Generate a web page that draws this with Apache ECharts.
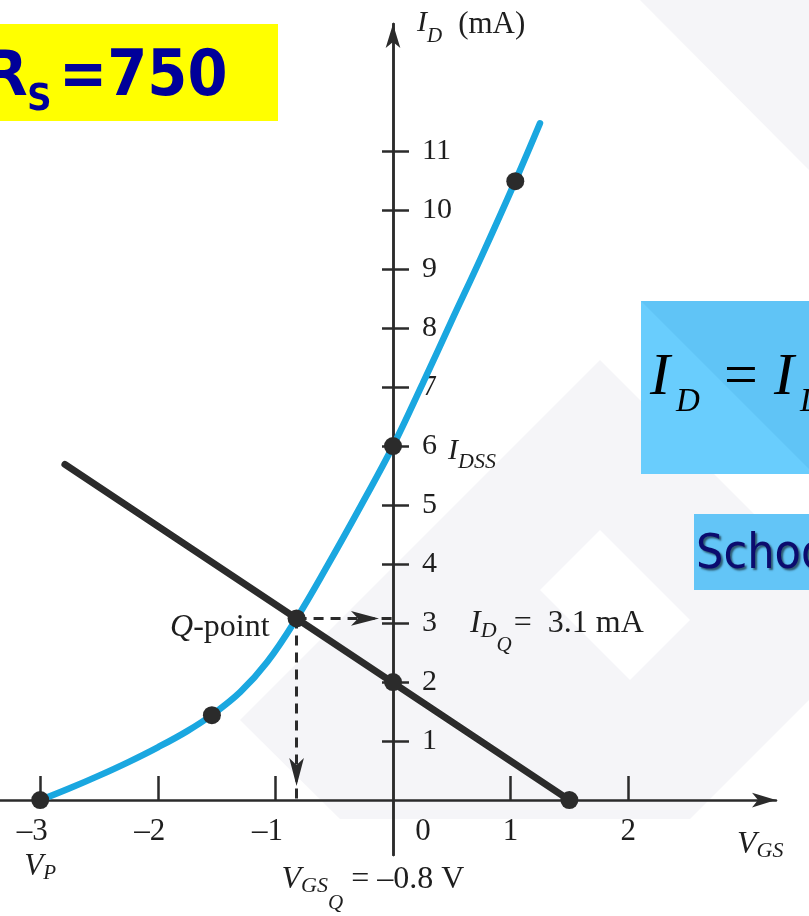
<!DOCTYPE html>
<html><head><meta charset="utf-8">
<script src="https://cdn.jsdelivr.net/npm/echarts@6/dist/echarts.min.js"></script>
<style>html,body{margin:0;padding:0;background:#fff;overflow:hidden}#c{width:809px;height:916px}</style>
</head><body><div id="c"></div>
<script>
// ---- data ----
const VGS_CURVE = [-3, -2.75, -2.5, -2.25, -2.0, -1.75, -1.55, -1.3, -1.07, -0.82, -0.55, -0.27, 0, 0.25, 0.5, 0.75, 1.04, 1.25];
const ID_CURVE  = [0, 0.20, 0.415, 0.645, 0.895, 1.17, 1.43, 1.83, 2.34, 3.08, 4.0, 5.0, 6.0, 7.05, 8.13, 9.2, 10.49, 11.47];
const LOAD_VGS = [-2.79, 1.5];
const LOAD_ID  = [5.69, 0];
const DOT_VGS = [-3, -1.54, 0, 1.04, 0, 1.5];
const DOT_ID  = [0, 1.44, 6, 10.49, 2, 0];
const Q_POINT = [-0.82, 3.08];
const IDSS = 6;
const X_TICKS = [-3, -2, -1, 1, 2];
const X_LABELS = [-3, -2, -1, 0, 1, 2];
const Y_TICKS = [1, 2, 3, 4, 5, 6, 7, 8, 9, 10, 11];
const X_MIN = -3.342, X_MAX = 3.257, Y_MIN = -0.93, Y_MAX = 13.153;

const serif = 'Liberation Serif';
const INK = '#2b2b2b';
const TXT = '#1e1e1e';

const zip = (a, b) => a.map((v, i) => [v, b[i]]);

function fmtX(v) {
  const s = v < 0 ? '\u2013' + Math.abs(v) : String(v);
  if (v === -3) return '{n|' + s + '}\n{v|V}{p|P}';
  if (v === 0) return '{z|0}';
  if (v < 0) return '{n|' + s + '}';
  return '{m|' + s + '}';
}
function fmtY(v) {
  if (v === IDSS) return '{n|' + v + '}{i|I}{s|DSS}';
  return '{n|' + v + '}';
}

const chart = echarts.init(document.getElementById('c'), null, {renderer: 'canvas'});
const labelBase = {color: TXT, opacity: 1, textBorderWidth: 0, fontFamily: serif};
const option = {
  animation: false,
  backgroundColor: '#ffffff',
  textStyle: {fontFamily: serif},
  grid: {left: 0, right: 33, top: 24, bottom: 61, containLabel: false, outerBoundsMode: 'none'},
  xAxis: {
    type: 'value', min: X_MIN, max: X_MAX,
    axisLine: {onZero: true, symbol: ['none', 'arrow'], symbolSize: [11, 24], lineStyle: {color: INK, width: 2.5}},
    axisTick: {show: true, inside: true, length: 24, customValues: X_TICKS, lineStyle: {color: INK, width: 2.5}},
    axisLabel: {
      customValues: X_LABELS, margin: -40, formatter: fmtX, color: TXT, fontFamily: serif, fontSize: 30,
      rich: {
        n: {fontFamily: serif, fontSize: 31, color: TXT, lineHeight: 34, padding: [0, 16, 0, 0]},
        m: {fontFamily: serif, fontSize: 31, color: TXT, lineHeight: 34},
        z: {fontFamily: serif, fontSize: 31, color: TXT, lineHeight: 34, padding: [0, 0, 0, 60]},
        v: {fontFamily: serif, fontSize: 31, fontStyle: 'italic', color: TXT, lineHeight: 34},
        p: {fontFamily: serif, fontSize: 21, fontStyle: 'italic', color: TXT, padding: [14, 0, 0, 0]}
      }
    },
    splitLine: {show: false},
    name: '{v|V}{s|GS}', nameLocation: 'end', nameGap: -39,
    nameTextStyle: {
      align: 'left', verticalAlign: 'top', padding: [26, 0, 0, 0],
      rich: {
        v: {fontFamily: serif, fontSize: 32, fontStyle: 'italic', color: TXT, lineHeight: 36},
        s: {fontFamily: serif, fontSize: 22, fontStyle: 'italic', color: TXT, padding: [14, 0, 0, 0]}
      }
    }
  },
  yAxis: [{
    type: 'value', min: Y_MIN, max: Y_MAX, position: 'left',
    axisLine: {onZero: true, onZeroAxisIndex: 0, symbol: ['none', 'arrow'], symbolSize: [11, 24], lineStyle: {color: INK, width: 2.5}},
    axisTick: {show: true, inside: false, length: 11, customValues: Y_TICKS, lineStyle: {color: INK, width: 2.5}},
    axisLabel: {show: false},
    splitLine: {show: false},
    name: '{i|I}{d|D}{t|(mA)}', nameLocation: 'end', nameGap: 1,
    nameTextStyle: {
      align: 'left', verticalAlign: 'middle', padding: [0, 0, 0, 24],
      rich: {
        i: {fontFamily: serif, fontSize: 30, fontStyle: 'italic', color: TXT, lineHeight: 40},
        d: {fontFamily: serif, fontSize: 21, fontStyle: 'italic', color: TXT, padding: [26, 0, 0, 0]},
        t: {fontFamily: serif, fontSize: 31, color: TXT, padding: [4, 0, 0, 16]}
      }
    }
  }, {
    type: 'value', min: Y_MIN, max: Y_MAX, position: 'right',
    axisLine: {show: true, onZero: true, onZeroAxisIndex: 0, lineStyle: {color: INK, width: 2.5}},
    axisTick: {show: true, inside: false, length: 16, customValues: Y_TICKS, lineStyle: {color: INK, width: 2.5}},
    axisLabel: {
      show: true, customValues: Y_TICKS, margin: -354, formatter: fmtY, color: TXT,
      rich: {
        n: {fontFamily: serif, fontSize: 30, color: TXT, lineHeight: 40},
        i: {fontFamily: serif, fontSize: 30, fontStyle: 'italic', color: TXT, padding: [10, 0, 0, 11]},
        s: {fontFamily: serif, fontSize: 22, fontStyle: 'italic', color: TXT, padding: [32, 0, 0, 0]}
      }
    },
    splitLine: {show: false}
  }],
  series: [
    {
      name: 'Transfer curve', type: 'line', data: zip(VGS_CURVE, ID_CURVE),
      smooth: 0.4, symbol: 'none',
      lineStyle: {color: '#1AA7E0', width: 6.5, cap: 'round'}, z: 2
    },
    {
      name: 'Bias line', type: 'line', data: zip(LOAD_VGS, LOAD_ID), symbol: 'none',
      lineStyle: {color: INK, width: 7, cap: 'round'}, z: 3
    },
    {
      name: 'Projections', type: 'line', data: [Q_POINT], symbol: 'none', lineStyle: {opacity: 0}, z: 3,
      markLine: {
        silent: true, symbol: ['none', 'arrow'], symbolSize: [11, 28], symbolOffset: [[0, 0], [0, 14]],
        lineStyle: {type: [10, 7], width: 3, color: INK},
        label: {show: false},
        data: [
          [{coord: Q_POINT}, {coord: [0, Q_POINT[1]]}],
          [{coord: Q_POINT}, {coord: [Q_POINT[0], 0]}],
          [{coord: [Q_POINT[0], 0], symbol: 'none'}, {coord: [Q_POINT[0], Y_MIN - 0.05], symbol: 'none'}]
        ]
      }
    },
    {
      name: 'Points', type: 'scatter', data: zip(DOT_VGS, DOT_ID), symbolSize: 18,
      itemStyle: {color: INK, opacity: 1}, z: 5
    },
    {
      name: 'Q-point', type: 'scatter', data: [Q_POINT], symbolSize: 18, itemStyle: {color: INK, opacity: 1}, z: 5,
      label: Object.assign({}, labelBase, {
        show: true, position: 'left', distance: 18, offset: [0, 9], formatter: '{q|Q}{t|-point}',
        rich: {
          q: {fontFamily: serif, fontSize: 32, fontStyle: 'italic', color: TXT},
          t: {fontFamily: serif, fontSize: 32, color: TXT}
        }
      })
    },
    {
      name: 'IDQ', type: 'scatter', data: [[0, Q_POINT[1]]], symbolSize: 0, itemStyle: {opacity: 1}, z: 5,
      label: Object.assign({}, labelBase, {
        show: true, position: 'right', distance: 77, offset: [0, 5], formatter: '{i|I}{d|D}{q|Q}{t|=}{u|3.1 mA}',
        rich: {
          i: {fontFamily: serif, fontSize: 32, fontStyle: 'italic', color: TXT, lineHeight: 40},
          d: {fontFamily: serif, fontSize: 22, fontStyle: 'italic', color: TXT, padding: [16, 0, 0, 0]},
          q: {fontFamily: serif, fontSize: 21, fontStyle: 'italic', color: TXT, padding: [44, 0, 0, 0]},
          t: {fontFamily: serif, fontSize: 32, color: TXT, padding: [0, 0, 0, 2]},
          u: {fontFamily: serif, fontSize: 32, color: TXT, padding: [0, 0, 0, 16]}
        }
      })
    },
    {
      name: 'VGSQ', type: 'scatter', data: [[Q_POINT[0], 0]], symbolSize: 0, itemStyle: {opacity: 1}, z: 5,
      label: Object.assign({}, labelBase, {
        show: true, position: 'inside', align: 'left', verticalAlign: 'middle', offset: [-15, 79],
        formatter: '{v|V}{g|GS}{q|Q}{t| = \u20130.8 V}',
        rich: {
          v: {fontFamily: serif, fontSize: 32, fontStyle: 'italic', color: TXT, lineHeight: 40},
          g: {fontFamily: serif, fontSize: 22, fontStyle: 'italic', color: TXT, padding: [14, 0, 0, 0]},
          q: {fontFamily: serif, fontSize: 21, fontStyle: 'italic', color: TXT, padding: [48, 0, 0, 0]},
          t: {fontFamily: serif, fontSize: 32, color: TXT}
        }
      })
    }
  ],
  graphic: [
    // faint watermark shapes
    {type: 'polygon', z: -10, silent: true, shape: {points: [[240, 720], [600, 360], [809, 569], [809, 700], [690, 819], [340, 819]]}, style: {fill: '#F5F5F8'}},
    {type: 'polygon', z: -10, silent: true, shape: {points: [[560, 0], [809, 0], [809, 170], [640, 0]]}, style: {fill: '#F5F5F8'}},
    {type: 'polygon', z: -9, silent: true, shape: {points: [[540, 590], [600, 530], [690, 620], [630, 680]]}, style: {fill: '#FFFFFF'}},
    // yellow title box
    {type: 'rect', z: 10, silent: true, shape: {x: 0, y: 24, width: 278, height: 97}, style: {fill: '#FFFF00'}},
    {type: 'text', z: 11, silent: true, x: -16, y: 110, style: {text: 'R', font: 'bold 63px "DejaVu Sans Condensed", "DejaVu Sans"', fill: '#000099', verticalAlign: 'bottom'}},
    {type: 'text', z: 11, silent: true, x: 27, y: 119, style: {text: 'S', font: 'bold 38px "DejaVu Sans Condensed", "DejaVu Sans"', fill: '#000099', verticalAlign: 'bottom'}},
    {type: 'text', z: 11, silent: true, x: 59, y: 110, style: {text: '=750', font: 'bold 64px "DejaVu Sans Condensed", "DejaVu Sans"', fill: '#000099', verticalAlign: 'bottom'}},
    // blue formula box
    {type: 'rect', z: 10, silent: true, shape: {x: 641, y: 301, width: 170, height: 173}, style: {fill: '#69CDFD'}},
    {type: 'polygon', z: 10, silent: true, shape: {points: [[641, 301], [809, 301], [809, 469]]}, style: {fill: '#60C4F6'}},
    {type: 'text', z: 11, silent: true, x: 650, y: 408, style: {text: 'I', font: 'italic 60px "Liberation Serif"', fill: '#000', verticalAlign: 'bottom'}},
    {type: 'text', z: 11, silent: true, x: 676, y: 419, style: {text: 'D', font: 'italic 33px "Liberation Serif"', fill: '#000', verticalAlign: 'bottom'}},
    {type: 'text', z: 11, silent: true, x: 724, y: 408, style: {text: '=', font: '60px "Liberation Serif"', fill: '#000', verticalAlign: 'bottom'}},
    {type: 'text', z: 11, silent: true, x: 774, y: 408, style: {text: 'I', font: 'italic 60px "Liberation Serif"', fill: '#000', verticalAlign: 'bottom'}},
    {type: 'text', z: 11, silent: true, x: 800, y: 419, style: {text: 'D', font: 'italic 33px "Liberation Serif"', fill: '#000', verticalAlign: 'bottom'}},
    // blue school box
    {type: 'rect', z: 10, silent: true, shape: {x: 694, y: 514, width: 117, height: 76}, style: {fill: '#63C5F7'}},
    {type: 'text', z: 11, silent: true, x: 696, y: 580, style: {text: 'School', font: '48px "DejaVu Sans Condensed", "DejaVu Sans"', fill: '#0B0B6E', verticalAlign: 'bottom', textShadowColor: 'rgba(0,0,0,0.55)', textShadowOffsetX: 2, textShadowOffsetY: 2, textShadowBlur: 2}}
  ]
};
chart.setOption(option);
</script>
</body></html>
